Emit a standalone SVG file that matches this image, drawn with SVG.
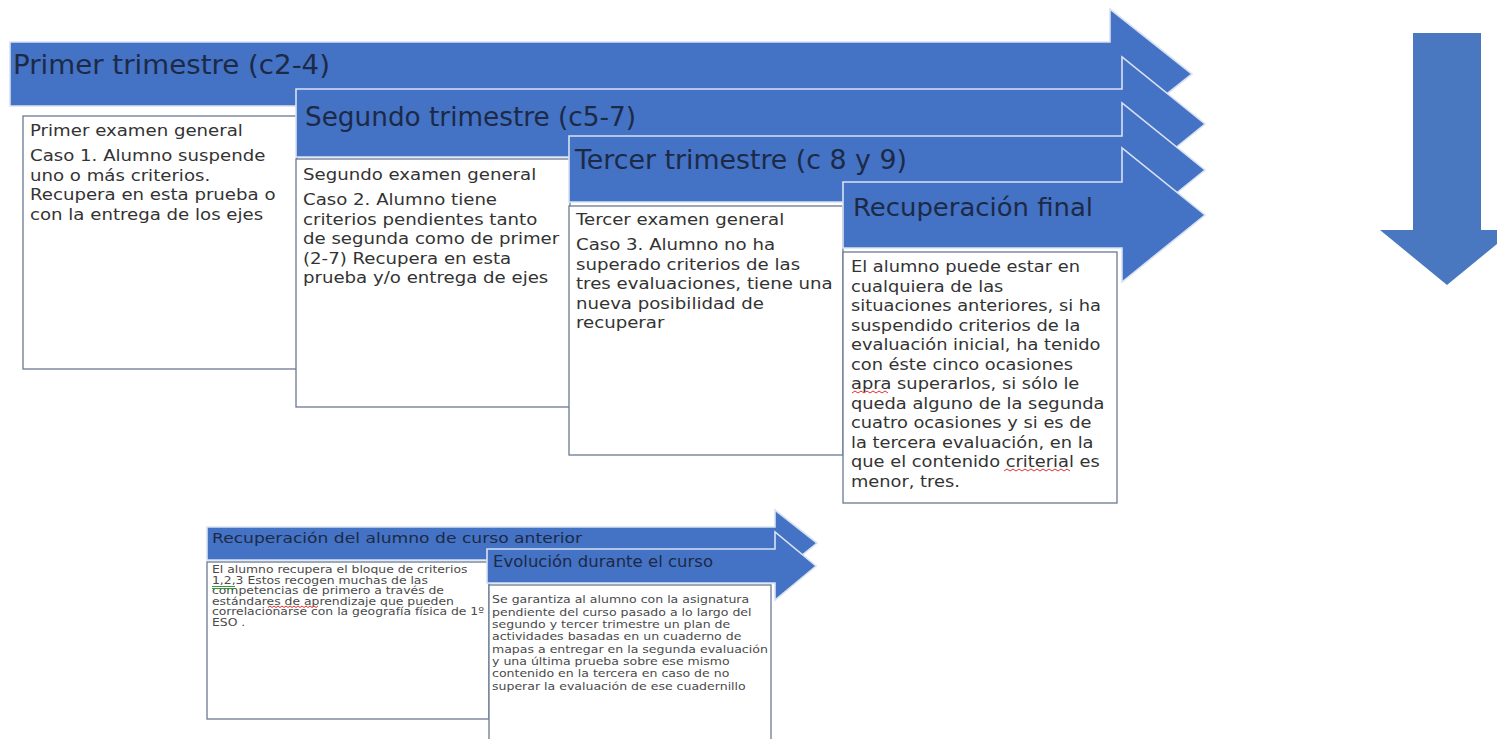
<svg xmlns="http://www.w3.org/2000/svg" width="1497" height="739" viewBox="0 0 1497 739">
<style>
.arr{fill:#4472c4;stroke:#d9e2f2;stroke-width:1.6;stroke-linejoin:miter}
.box{fill:#ffffff;stroke:#6a7a92;stroke-width:1.3}
.ttl{font-family:"DejaVu Sans",Verdana,sans-serif;fill:#1c2a47}
.txt{font-family:"DejaVu Sans",Verdana,sans-serif;font-size:16.5px;fill:#333333}
.sm{font-family:"DejaVu Sans",Verdana,sans-serif;fill:#4a4a4a}
.sq{fill:none;stroke:#e0302a;stroke-width:1}
.sqg{fill:none;stroke:#3a9a3a;stroke-width:1}
</style>
<rect width="1497" height="739" fill="#ffffff"/>

<g id="primer">
<path class="arr" d="M10,42 H1110 V9 L1192,74 L1110,139 V106 H10 Z"/>
<text class="ttl" x="13" y="74" font-size="26" textLength="317" lengthAdjust="spacingAndGlyphs">Primer trimestre (c2-4)</text>
<rect class="box" x="23" y="116" width="274" height="253"/>
<g class="txt" transform="translate(30 0) scale(1.1 1) translate(-30 0)">
<text x="30" y="136">Primer examen general</text>
<text x="30" y="161.5">Caso 1. Alumno suspende</text>
<text x="30" y="181">uno o más criterios.</text>
<text x="30" y="200.5">Recupera en esta prueba o</text>
<text x="30" y="220">con la entrega de los ejes</text>
</g>
</g>

<g id="segundo">
<path class="arr" d="M296,89 H1122 V57 L1205,124 L1122,191 V157 H296 Z"/>
<text class="ttl" x="305" y="126" font-size="26" textLength="331" lengthAdjust="spacingAndGlyphs">Segundo trimestre (c5-7)</text>
<rect class="box" x="296" y="159" width="274" height="248"/>
<g class="txt" transform="translate(303 0) scale(1.1 1) translate(-303 0)">
<text x="303" y="180.5">Segundo examen general</text>
<text x="303" y="205.5">Caso 2. Alumno tiene</text>
<text x="303" y="225">criterios pendientes tanto</text>
<text x="303" y="244.5">de segunda como de primer</text>
<text x="303" y="264">(2-7) Recupera en esta</text>
<text x="303" y="283.5">prueba y/o entrega de ejes</text>
</g>
</g>

<g id="tercer">
<path class="arr" d="M569,136 H1122 V103 L1205,170 L1122,237 V202 H569 Z"/>
<text class="ttl" x="575" y="169" font-size="26" textLength="332" lengthAdjust="spacingAndGlyphs">Tercer trimestre (c 8 y 9)</text>
<rect class="box" x="569" y="206" width="274" height="249"/>
<g class="txt" transform="translate(576 0) scale(1.1 1) translate(-576 0)">
<text x="576" y="225.5">Tercer examen general</text>
<text x="576" y="250.5">Caso 3. Alumno no ha</text>
<text x="576" y="270">superado criterios de las</text>
<text x="576" y="289.5">tres evaluaciones, tiene una</text>
<text x="576" y="309">nueva posibilidad de</text>
<text x="576" y="328.5">recuperar</text>
</g>
</g>

<g id="final">
<path class="arr" d="M843,182 H1122 V148 L1205,215 L1122,282 V248 H843 Z"/>
<text class="ttl" x="853" y="216" font-size="25" textLength="240" lengthAdjust="spacingAndGlyphs">Recuperación  final</text>
<rect class="box" x="843" y="252" width="274" height="251"/>
<g class="txt" transform="translate(851 0) scale(1.08 1) translate(-851 0)">
<text x="851" y="272.5">El alumno puede estar en</text>
<text x="851" y="292">cualquiera de las</text>
<text x="851" y="311.5">situaciones anteriores, si ha</text>
<text x="851" y="331">suspendido criterios de la</text>
<text x="851" y="350.5">evaluación inicial, ha tenido</text>
<text x="851" y="370">con éste cinco ocasiones</text>
<text x="851" y="389.5">apra superarlos, si sólo le</text>
<text x="851" y="409">queda alguno de la segunda</text>
<text x="851" y="428.5">cuatro ocasiones  y si es de</text>
<text x="851" y="448">la tercera evaluación, en la</text>
<text x="851" y="467.5">que el contenido criterial es</text>
<text x="851" y="487">menor, tres.</text>
</g>
<path class="sq" d="M852,393 l3,-2 l3,2 l3,-2 l3,2 l3,-2 l3,2 l3,-2 l3,2 l3,-2 l3,2 l3,-2 l3,2"/>
<path class="sq" d="M1004,471 l3,-2 l3,2 l3,-2 l3,2 l3,-2 l3,2 l3,-2 l3,2 l3,-2 l3,2 l3,-2 l3,2 l3,-2 l3,2 l3,-2 l3,2 l3,-2 l3,2 l3,-2 l3,2 l3,-2 l3,2"/>
</g>

<g id="flecha-abajo">
<path fill="#4a78c0" d="M1413,33 H1481 V230 H1514 L1447,285 L1380,230 H1413 Z"/>
</g>

<g id="curso-anterior">
<path class="arr" d="M207,527 H775 V510 L817,543 L775,577 V560 H207 Z"/>
<text class="ttl" x="212" y="543" font-size="14.5" textLength="370" lengthAdjust="spacingAndGlyphs">Recuperación del alumno de curso anterior</text>
<rect class="box" x="207" y="562" width="282" height="157"/>
<g class="sm" font-size="10.5" transform="translate(212 0) scale(1.18 1) translate(-212 0)">
<text x="212" y="573.5">El alumno recupera el bloque de criterios</text>
<text x="212" y="584">1,2,3 Estos recogen muchas de las</text>
<text x="212" y="594.5">competencias de primero a través de</text>
<text x="212" y="605">estándares de aprendizaje que pueden</text>
<text x="212" y="615.5">correlacionarse con la geografía física de 1º</text>
<text x="212" y="626">ESO .</text>
</g>
<path class="sqg" d="M212,586.5 H235 M212,588.5 H235"/>
<path class="sq" d="M268,607.5 l2,-1.5 l2,1.5 l2,-1.5 l2,1.5 l2,-1.5 l2,1.5 l2,-1.5 l2,1.5 l2,-1.5 l2,1.5 l2,-1.5 l2,1.5 l2,-1.5 l2,1.5 l2,-1.5 l2,1.5 l2,-1.5 l2,1.5 l2,-1.5 l2,1.5 l2,-1.5 l2,1.5 l2,-1.5 l2,1.5 l2,-1.5"/>
</g>

<g id="evolucion">
<path class="arr" d="M487,549 H775 V532 L816,566 L775,600 V583 H487 Z"/>
<text class="ttl" x="493" y="567" font-size="15" textLength="220" lengthAdjust="spacingAndGlyphs">Evolución durante el curso</text>
<rect class="box" x="489" y="585" width="282" height="165"/>
<g class="sm" font-size="11" transform="translate(492 0) scale(1.14 1) translate(-492 0)">
<text x="492" y="603.5">Se garantiza al alumno con la asignatura</text>
<text x="492" y="615.8">pendiente del curso pasado a lo largo del</text>
<text x="492" y="628.1">segundo y tercer trimestre un plan de</text>
<text x="492" y="640.4">actividades basadas en un cuaderno de</text>
<text x="492" y="652.7">mapas a entregar en la segunda evaluación</text>
<text x="492" y="665">y una última prueba sobre ese mismo</text>
<text x="492" y="677.3">contenido en la tercera en caso de no</text>
<text x="492" y="689.6">superar la evaluación de ese cuadernillo</text>
</g>
</g>
</svg>
